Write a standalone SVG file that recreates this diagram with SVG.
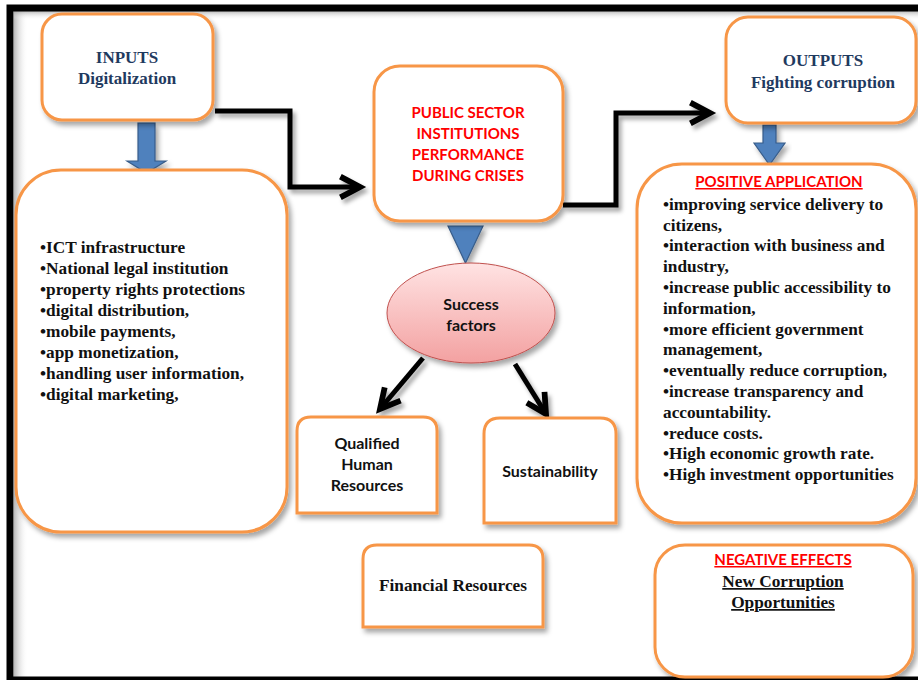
<svg xmlns="http://www.w3.org/2000/svg" width="918" height="680" viewBox="0 0 918 680">
<defs>
<style>
.box{fill:#fff;stroke:#F79646;stroke-width:3;filter:url(#sh)}
.serif{font-family:"Liberation Serif","Times New Roman",serif;font-weight:bold}
.sans{font-family:Lato,"Liberation Sans",sans-serif;font-weight:bold}
.navy{fill:#1F3A60;font-size:17px}
.list{fill:#111;font-size:17.3px}
.red{fill:#FF0000;font-size:15px}
.blk{fill:#111;font-size:16px}
.conn{fill:none;stroke:#000;stroke-width:5;filter:url(#sh2)}
.blue{fill:#4F81BD;stroke:#385D8A;stroke-width:1.2;filter:url(#sh)}
</style>
<filter id="sh" x="-10%" y="-10%" width="130%" height="130%">
<feDropShadow dx="3" dy="4" stdDeviation="2.5" flood-color="#000" flood-opacity="0.35"/>
</filter>
<filter id="sh2" x="-20%" y="-20%" width="150%" height="150%">
<feDropShadow dx="3" dy="4" stdDeviation="2" flood-color="#000" flood-opacity="0.35"/>
</filter>
<linearGradient id="pink" x1="0" y1="0" x2="0" y2="1">
<stop offset="0" stop-color="#FFE3E3"/>
<stop offset="1" stop-color="#F3A1A1"/>
</linearGradient>
<linearGradient id="gl" x1="0" y1="0" x2="1" y2="0">
<stop offset="0" stop-color="#999" stop-opacity="0.7"/>
<stop offset="1" stop-color="#fff" stop-opacity="0"/>
</linearGradient>
<linearGradient id="gt" x1="0" y1="0" x2="0" y2="1">
<stop offset="0" stop-color="#999" stop-opacity="0.7"/>
<stop offset="1" stop-color="#fff" stop-opacity="0"/>
</linearGradient>
<marker id="chev" markerUnits="userSpaceOnUse" markerWidth="30" markerHeight="30" refX="0" refY="0" viewBox="-22 -13 26 26" orient="auto" overflow="visible">
<path d="M-17,-9 L0,0 L-17,9" fill="none" stroke="#000" stroke-width="5" stroke-linejoin="miter"/>
</marker>
</defs>
<rect width="918" height="680" fill="#fff"/>
<g id="frame">
<rect x="14" y="11" width="14" height="666" fill="url(#gl)"/>
<rect x="14" y="11" width="904" height="9" fill="url(#gt)"/>
<rect x="10" y="8" width="940" height="672" fill="none" stroke="#000" stroke-width="7"/>
</g>
<g id="connectors">
<polyline class="conn" points="215,111 290,111 290,187 360,187" marker-end="url(#chev)"/>
<polyline class="conn" points="563,205 616,205 616,113 710,113" marker-end="url(#chev)"/>
<line class="conn" x1="423" y1="358" x2="380" y2="409" marker-end="url(#chev)"/>
<line class="conn" x1="515" y1="364" x2="546" y2="414" marker-end="url(#chev)"/>
<polygon class="blue" points="138,123 155,123 155,161 166,161 146.5,173 127,161 138,161"/>
<polygon class="blue" points="763,125 776,125 776,143 785,143 769.5,165 754,143 763,143"/>
<polygon class="blue" points="448,226 483,226 465.5,263"/>
</g>
<g id="inputs">
<rect class="box" x="42" y="14" width="171" height="106" rx="20"/>
<text class="serif navy" x="127" y="63" text-anchor="middle">INPUTS</text>
<text class="serif navy" x="127" y="84" text-anchor="middle">Digitalization</text>
</g>
<g id="public-sector">
<rect class="box" x="374" y="66" width="189" height="155" rx="26"/>
<text class="sans red" x="468" y="118" text-anchor="middle">PUBLIC SECTOR</text>
<text class="sans red" x="468" y="139" text-anchor="middle">INSTITUTIONS</text>
<text class="sans red" x="468" y="160" text-anchor="middle">PERFORMANCE</text>
<text class="sans red" x="468" y="181" text-anchor="middle">DURING CRISES</text>
</g>
<g id="outputs">
<rect class="box" x="726" y="17" width="190" height="106" rx="22"/>
<text class="serif navy" x="823" y="66" text-anchor="middle">OUTPUTS</text>
<text class="serif navy" x="823" y="88" text-anchor="middle">Fighting corruption</text>
</g>
<g id="inputs-list">
<rect class="box" x="16" y="170" width="271" height="362" rx="45"/>
<text class="serif list" x="40" y="253">•ICT infrastructure</text>
<text class="serif list" x="40" y="274">•National legal institution</text>
<text class="serif list" x="40" y="295">•property rights protections</text>
<text class="serif list" x="40" y="316">•digital distribution,</text>
<text class="serif list" x="40" y="337">•mobile payments,</text>
<text class="serif list" x="40" y="358">•app monetization,</text>
<text class="serif list" x="40" y="379">•handling user information,</text>
<text class="serif list" x="40" y="400">•digital marketing,</text>
</g>
<g id="positive">
<rect class="box" x="637" y="164" width="279" height="359" rx="45"/>
<text class="sans red" x="779" y="187" text-anchor="middle" text-decoration="underline">POSITIVE APPLICATION</text>
<text class="serif list" x="663" y="210">•improving service delivery to</text>
<text class="serif list" x="663" y="231">citizens,</text>
<text class="serif list" x="663" y="251">•interaction with business and</text>
<text class="serif list" x="663" y="272">industry,</text>
<text class="serif list" x="663" y="293">•increase public accessibility to</text>
<text class="serif list" x="663" y="314">information,</text>
<text class="serif list" x="663" y="335">•more efficient government</text>
<text class="serif list" x="663" y="355">management,</text>
<text class="serif list" x="663" y="376">•eventually reduce corruption,</text>
<text class="serif list" x="663" y="397">•increase transparency and</text>
<text class="serif list" x="663" y="418">accountability.</text>
<text class="serif list" x="663" y="439">•reduce costs.</text>
<text class="serif list" x="663" y="459">•High economic growth rate.</text>
<text class="serif list" x="663" y="480">•High investment opportunities</text>
</g>
<g id="success">
<ellipse cx="471" cy="313" rx="84" ry="50" fill="url(#pink)" stroke="#C0504D" stroke-width="1" filter="url(#sh)"/>
<text class="sans blk" x="471" y="310" text-anchor="middle">Success</text>
<text class="sans blk" x="471" y="331" text-anchor="middle">factors</text>
</g>
<g id="qualified">
<path class="box" d="M297,513 V431 Q297,417 311,417 H423 Q437,417 437,431 V513 Z"/>
<text class="sans blk" x="367" y="449" text-anchor="middle">Qualified</text>
<text class="sans blk" x="367" y="470" text-anchor="middle">Human</text>
<text class="sans blk" x="367" y="491" text-anchor="middle">Resources</text>
</g>
<g id="sustainability">
<path class="box" d="M484,523 V434 Q484,418 500,418 H600 Q616,418 616,434 V523 Z"/>
<text class="sans blk" x="550" y="477" text-anchor="middle">Sustainability</text>
</g>
<g id="financial">
<path class="box" d="M363,627 V559 Q363,545 377,545 H529 Q543,545 543,559 V627 Z"/>
<text class="serif list" x="453" y="591" text-anchor="middle">Financial Resources</text>
</g>
<g id="negative">
<rect class="box" x="655" y="545" width="258" height="132" rx="30"/>
<text class="sans red" x="783" y="565" text-anchor="middle" text-decoration="underline">NEGATIVE EFFECTS</text>
<text class="serif list" x="783" y="587" text-anchor="middle" text-decoration="underline">New Corruption</text>
<text class="serif list" x="783" y="608" text-anchor="middle" text-decoration="underline">Opportunities</text>
</g>
</svg>
